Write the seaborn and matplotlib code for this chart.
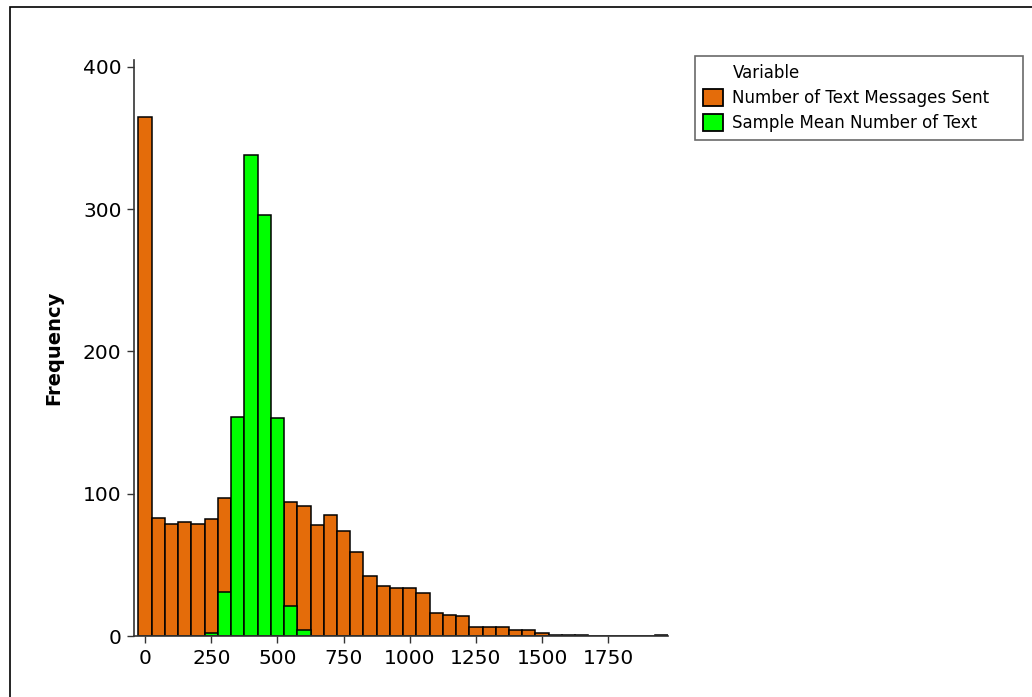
import numpy as np
import pandas as pd
import matplotlib
matplotlib.use("Agg")
import matplotlib.pyplot as plt
import seaborn as sns
from matplotlib.patches import Patch, Rectangle

# ---- data (counts per 50-wide bin, centred on 0, 50, 100, ...) ----
bin_centers = list(range(0, 2000, 50))
texts_sent = [365, 83, 79, 80, 79, 82, 97, 95, 96, 94, 93, 94, 91, 78, 85, 74, 59, 42, 35, 34,
              34, 30, 16, 15, 14, 6, 6, 6, 4, 4, 2, 1, 1, 1, 0, 0, 0, 0, 0, 1]
sample_means = [0, 0, 0, 0, 0, 2, 31, 154, 338, 296, 153, 21, 4, 0, 0, 0, 0, 0, 0, 0,
                0, 0, 0, 0, 0, 0, 0, 0, 0, 0, 0, 0, 0, 0, 0, 0, 0, 0, 0, 0]
series_names = ["Number of Text Messages Sent", "Sample Mean Number of Text"]
legend_title = "Variable"
x_ticks = [0, 250, 500, 750, 1000, 1250, 1500, 1750]
y_ticks = [0, 100, 200, 300, 400]

ORANGE = "#E46C0A"
GREEN = "#00FF00"

sns.set_theme(style="white")
plt.rcParams["font.family"] = ["DejaVu Sans"]
plt.rcParams["text.color"] = "black"

fig = plt.figure(figsize=(10.32, 6.97), dpi=100)
ax = fig.add_axes([134 / 1032, 1 - 636 / 697, (668 - 134) / 1032, (636 - 60) / 697])

df = pd.DataFrame({"center": bin_centers, "sent": texts_sent, "mean": sample_means})

sns.histplot(data=df, x="center", weights="sent", binwidth=50, binrange=(-25, 1975), ax=ax,
             color=ORANGE, alpha=1, edgecolor="black", linewidth=1.1)
sns.histplot(data=df[df["mean"] > 0], x="center", weights="mean", binwidth=50,
             binrange=(225, 625), ax=ax,
             color=GREEN, alpha=1, edgecolor="black", linewidth=1.1)

ax.set_xlim(-42, 1976)
ax.set_ylim(0, 404.7)
ax.set_xticks(x_ticks)
ax.set_yticks(y_ticks)
ax.set_xlabel("")
ax.set_ylabel("Frequency", fontsize=14, fontweight="bold", labelpad=14, color="black")
ax.tick_params(axis="both", which="major", direction="out", length=5, width=1,
               color="#333333", labelsize=14.5, pad=4, left=True, bottom=True,
               labelcolor="black")
for s in ["top", "right"]:
    ax.spines[s].set_visible(False)
for s in ["left", "bottom"]:
    ax.spines[s].set_color("#333333")
    ax.spines[s].set_linewidth(1.2)
ax.grid(False)

handles = [Patch(facecolor="none", edgecolor="none"),
           Patch(facecolor=ORANGE, edgecolor="black", linewidth=1.3),
           Patch(facecolor=GREEN, edgecolor="black", linewidth=1.3)]
labels = [legend_title] + series_names
leg = fig.legend(handles, labels, loc="upper left",
                 bbox_to_anchor=(695 / 1032, 1 - 56 / 697, (1023 - 695) / 1032, 0.0),
                 mode="expand", borderaxespad=0, fontsize=12, frameon=True, fancybox=False,
                 handlelength=1.2, handleheight=1.2, handletextpad=0.6, labelspacing=0.42,
                 borderpad=0.45)
leg.get_frame().set_edgecolor("#444444")
leg.get_frame().set_linewidth(1.2)
for t in leg.get_texts():
    t.set_color("black")

# outer frame
fig.patches.append(Rectangle((10 / 1032, -0.1), 1.2, 1 - 7 / 697 + 0.1,
                             transform=fig.transFigure, fill=False,
                             edgecolor="black", linewidth=1.2))

fig.savefig("out.png", dpi=100)
